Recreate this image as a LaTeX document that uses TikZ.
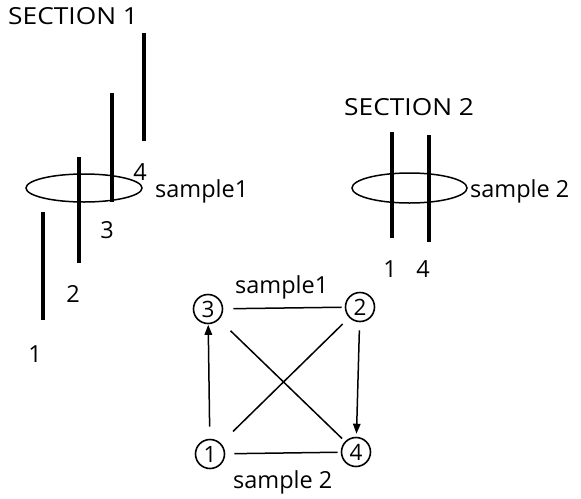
\documentclass[tikz,border=0pt]{standalone}
\usepackage{fontspec}
\setmainfont{Open Sans}
\usetikzlibrary{arrows.meta}
\begin{document}
\begin{tikzpicture}[x=1pt,y=-1pt,
  bar/.style={line width=3.8pt},
  ring/.style={line width=1.5pt},
  lbl/.style={font=\fontsize{23.5}{25}\selectfont, inner sep=0pt},
  vnode/.style={circle, draw, line width=1.6pt, minimum size=29pt, inner sep=0pt, font=\fontsize{22.5}{24}\selectfont},
  edge/.style={line width=1.5pt},
  arr/.style={edge, -{Triangle[length=10pt,width=7.5pt]}}
]
\useasboundingbox (0,0) rectangle (581,498);

% Section 1
\node[lbl, anchor=base west] (s1) at (8,24) {\scalebox{1.12}[1]{SECTION 1}};
\coordinate (a4t) at (144,33);   \coordinate (a4b) at (144,141);
\coordinate (a3t) at (111.7,93); \coordinate (a3b) at (111.7,202);
\coordinate (a2t) at (78.7,157); \coordinate (a2b) at (78.7,263);
\coordinate (a1t) at (42.7,212); \coordinate (a1b) at (42.7,320);
\draw[ring] (84,188) ellipse [x radius=58, y radius=14];
\draw[bar] (a4t) -- (a4b);
\draw[bar] (a3t) -- (a3b);
\draw[bar] (a2t) -- (a2b);
\draw[bar] (a1t) -- (a1b);
\node[lbl, anchor=base] (l4) at (140,180) {4};
\node[lbl, anchor=base] (l3) at (107,238) {3};
\node[lbl, anchor=base] (l2) at (73,302) {2};
\node[lbl, anchor=base] (l1) at (35,362) {1};
\node[lbl, anchor=base west] (smp1) at (155,197) {sample1};

% Section 2
\node[lbl, anchor=base west] (s2) at (344,115) {\scalebox{1.12}[1]{SECTION 2}};
\coordinate (b1t) at (391.7,132); \coordinate (b1b) at (391.7,238);
\coordinate (b4t) at (429,135);   \coordinate (b4b) at (429,242);
\draw[ring] (409.5,188) ellipse [x radius=57.5, y radius=15];
\draw[bar] (b1t) -- (b1b);
\draw[bar] (b4t) -- (b4b);
\node[lbl, anchor=base] (m1) at (390,277) {1};
\node[lbl, anchor=base] (m4) at (423,277) {4};
\node[lbl, anchor=base west] (smp2) at (470,197) {sample 2};

% Graph
\node[vnode] (n3) at (208,309) {3};
\node[vnode] (n2) at (360,307) {2};
\node[vnode] (n1) at (210,454) {1};
\node[vnode] (n4) at (356,452) {4};
\draw[edge, shorten <=10pt, shorten >=3pt] (n3) -- (n2);
\draw[edge, shorten <=9pt, shorten >=3pt] (n1) -- (n4);
\draw[edge, shorten <=16pt, shorten >=4pt] (n3) -- (n4);
\draw[edge, shorten <=9pt, shorten >=17pt] (n2) -- (n1);
\draw[arr, shorten <=12pt, shorten >=0.5pt] (n1) -- (n3);
\draw[arr, shorten <=8pt, shorten >=3pt] (n2) -- (n4);
\node[lbl, anchor=base west] (g1) at (235,293) {sample1};
\node[lbl, anchor=base west] (g2) at (233,488) {sample 2};
\end{tikzpicture}
\end{document}
